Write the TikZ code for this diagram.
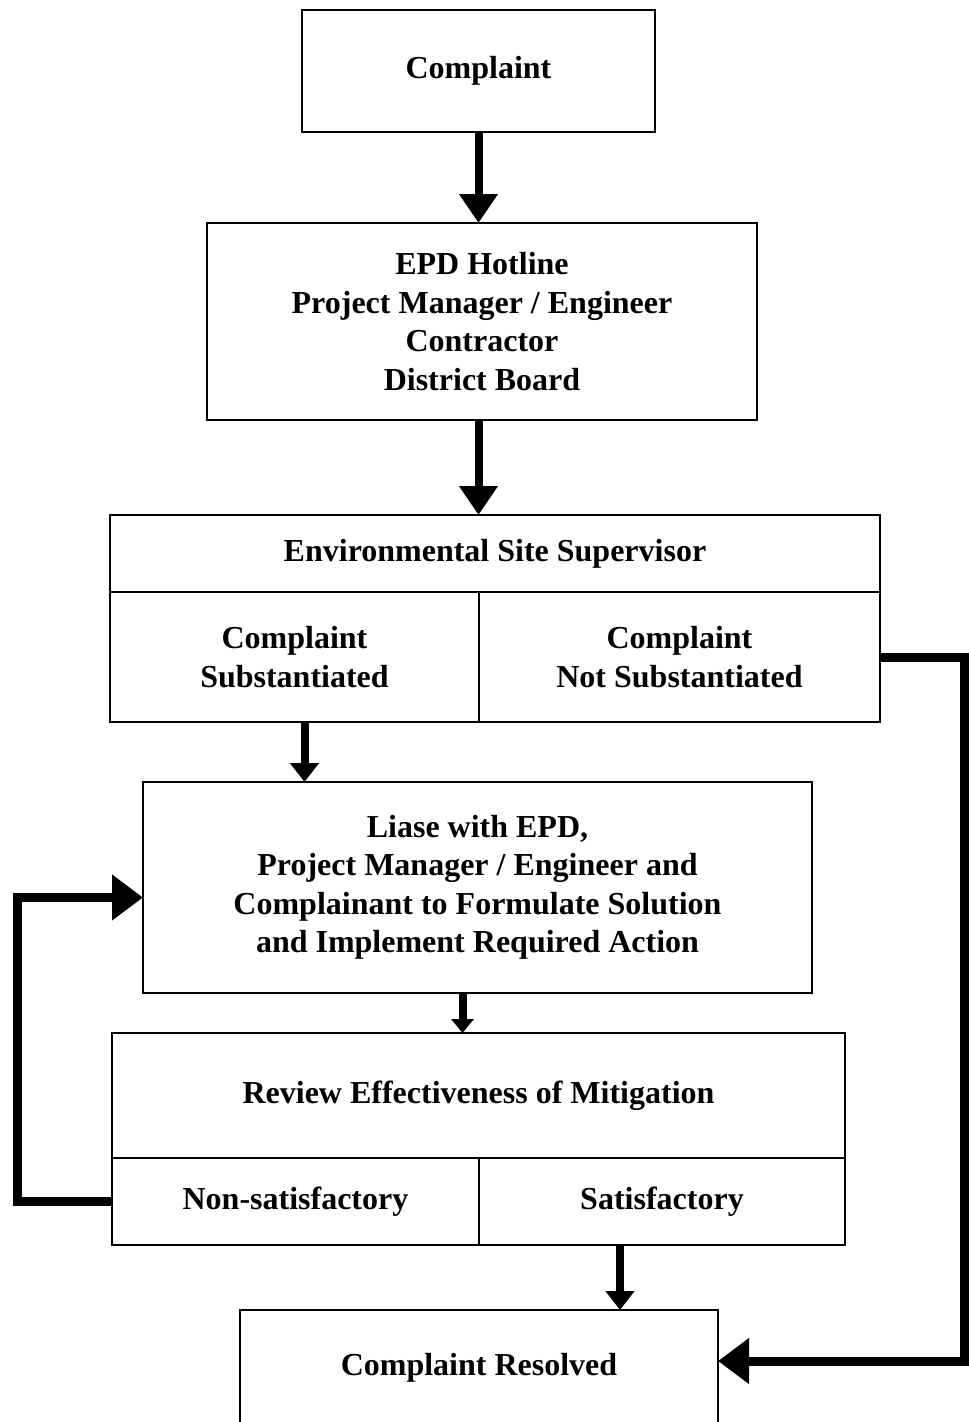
\documentclass[tikz,border=0pt]{standalone}
\usepackage{fontspec}
\setmainfont{Liberation Serif}
\usetikzlibrary{arrows.meta}

\begin{document}
\begin{tikzpicture}[
        box/.style = {draw, rectangle, line width = 1.6pt, inner sep = 0pt, outer sep = 0pt, align = center, font = \bfseries\fontsize{32}{38.5}\selectfont},
        flow/.style = {line width = 8pt, -{Triangle[width = 37pt, length = 29pt]}},
        shortflow/.style = {line width = 8pt, -{Triangle[width = 28pt, length = 19pt]}},
        loopflow/.style = {line width = 9pt, -{Triangle[width = 44pt, length = 31pt]}}
    ]

        \useasboundingbox (0pt, 0pt) rectangle (969pt, -1422pt);

        \node [box, minimum width = 353pt, minimum height = 122pt] (complaint) at (478.5pt, -71pt) {Complaint};

        \node [box, minimum width = 550pt, minimum height = 197pt] (hotline) at (482pt, -321.5pt) {EPD Hotline\\Project Manager / Engineer\\Contractor\\District Board};

        \node [box, minimum width = 770pt, minimum height = 77pt] (ess) at (495pt, -553.5pt) {Environmental Site Supervisor};
        \node [box, minimum width = 369pt, minimum height = 130pt] (sub) at (294.5pt, -657pt) {Complaint\\Substantiated};
        \node [box, minimum width = 401pt, minimum height = 130pt] (nsub) at (679.5pt, -657pt) {Complaint\\Not Substantiated};

        \node [box, minimum width = 669pt, minimum height = 211pt] (liase) at (477.5pt, -887.5pt) {Liase with EPD,\\Project Manager / Engineer and\\Complainant to Formulate Solution\\and Implement Required Action};

        \node [box, minimum width = 733pt, minimum height = 125pt] (review) at (478.5pt, -1095.5pt) {Review Effectiveness of Mitigation};
        \node [box, minimum width = 367pt, minimum height = 87pt] (nonsat) at (295.5pt, -1201.5pt) {Non-satisfactory};
        \node [box, minimum width = 366pt, minimum height = 87pt] (sat) at (662pt, -1201.5pt) {Satisfactory};

        \node [box, minimum width = 478pt, minimum height = 116pt] (resolved) at (479pt, -1368pt) {Complaint Resolved};

        \coordinate (westrail) at (17pt, 0pt);
        \coordinate (eastrail) at (964pt, 0pt);

        % Down the chart
        \draw [flow] (complaint.south) -- (complaint.south |- hotline.north);
        \draw [flow] (hotline.south -| complaint.south) -- (complaint.south |- ess.north);
        \draw [shortflow] ([xshift = 10pt] sub.south) -- ([xshift = 10pt] sub.south |- liase.north);
        \draw [shortflow, -{Triangle[width = 22pt, length = 14pt]}] ([xshift = -15pt] liase.south) -- ([xshift = -15pt] liase.south |- review.north);
        \draw [shortflow] ([xshift = -42pt] sat.south) -- ([xshift = -42pt] sat.south |- resolved.north);

        % Loops
        \draw [loopflow] (nonsat.west) -- (nonsat.west -| westrail) |- ([yshift = -10pt] liase.west);
        \draw [loopflow] (nsub.east) -- (nsub.east -| eastrail) |- ([yshift = 7pt] resolved.east);

    \end{tikzpicture}
\end{document}
